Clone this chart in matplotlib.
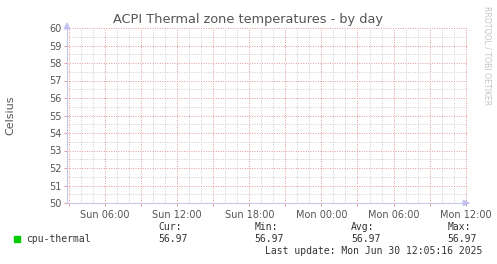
import numpy as np
import matplotlib
matplotlib.use("Agg")
import matplotlib.pyplot as plt
from matplotlib import rcParams
rcParams['font.family'] = 'DejaVu Sans'

# hours since Sun 00:00
xlim_hours = [2.84, 36.19]
tick_hours = [6, 12, 18, 24, 30, 36]
tick_labels = ['Sun 06:00', 'Sun 12:00', 'Sun 18:00', 'Mon 00:00', 'Mon 06:00', 'Mon 12:00']
# only the last sample exists, so nothing visible is drawn
series_hours = [36.08]
series_temp = [56.97]
stats_names = ['Cur:', 'Min:', 'Avg:', 'Max:']
stats_vals = ['56.97', '56.97', '56.97', '56.97']
ylim = [50, 60]

fig = plt.figure(figsize=(4.97, 2.64), dpi=100)
fig.patch.set_facecolor('white')
ax = fig.add_axes([67/497, 1-203/264, 401/497, 175/264])
ax.set_xlim(*xlim_hours)
ax.set_ylim(*ylim)

minor_c = '#cccccc'
major_c = '#e49898'
dots = (0, (1, 1.5))
for h in np.arange(3, 37, 1):
    if h % 3 == 0:
        continue
    ax.axvline(h, color=minor_c, lw=0.7, ls=dots, zorder=1)
for v in np.arange(50.5, 60, 1):
    ax.axhline(v, color=minor_c, lw=0.7, ls=dots, zorder=1)
for h in np.arange(3, 37, 3):
    ax.axvline(h, color=major_c, lw=0.7, ls=dots, zorder=2)
for v in np.arange(51, 61, 1):
    ax.axhline(v, color=major_c, lw=0.7, ls=dots, zorder=2)

ax.plot(series_hours, series_temp, color='#00cc00', lw=1)

for s in ['top', 'right']:
    ax.spines[s].set_visible(False)
for s in ['left', 'bottom']:
    ax.spines[s].set_color('#c8c8f0')
    ax.spines[s].set_linewidth(0.8)

# axis arrows
ax.annotate('', xy=(1.012, 0), xycoords='axes fraction', xytext=(0.98, 0),
            arrowprops=dict(arrowstyle='-|>', color='#c0c0f0', lw=0.8, mutation_scale=10))
ax.annotate('', xy=(0, 1.05), xycoords='axes fraction', xytext=(0, 0.98),
            arrowprops=dict(arrowstyle='-|>', color='#c0c0f0', lw=0.8, mutation_scale=10))

ax.set_xticks(np.arange(3, 37, 3))
ax.set_xticklabels(['' if h not in tick_hours else tick_labels[tick_hours.index(h)]
                    for h in np.arange(3, 37, 3)])
ax.set_yticks(np.arange(50, 61, 1))
ax.tick_params(axis='x', colors='#e49898', length=2, width=0.7, labelcolor='#555555',
               labelsize=7, pad=3)
ax.tick_params(axis='y', colors='#e49898', length=2, width=0.7, labelcolor='#555555',
               labelsize=7, pad=2)

fig.text(248/497, 1-19/264, 'ACPI Thermal zone temperatures - by day', ha='center',
         va='center', fontsize=9.3, color='#555555')
fig.text(10/497, 1-115/264, 'Celsius', rotation=90, ha='center', va='center',
         fontsize=8, color='#555555')
fig.text(487/497, 1-56/264, 'RRDTOOL / TOBI OETIKER', rotation=270, ha='center',
         va='center', fontsize=5.6, color='#c4c4c4')

mono = 'DejaVu Sans Mono'
fig.patches.append(plt.Rectangle((14/497, 1-242/264), 6/497, 6/264,
                                 transform=fig.transFigure, color='#00cc00'))
fig.text(26/497, 1-239.5/264, 'cpu-thermal', family=mono, fontsize=7,
         va='center', color='#333333')
for i, (n, v) in enumerate(zip(stats_names, stats_vals)):
    x = (158 + i*96.5)/497
    fig.text(x, 1-227/264, n, family=mono, fontsize=7, va='center', color='#333333')
    fig.text(x, 1-239.5/264, v, family=mono, fontsize=7, va='center', color='#333333')
fig.text(482/497, 1-251/264, 'Last update: Mon Jun 30 12:05:16 2025', family=mono,
         fontsize=7, va='center', ha='right', color='#333333')

fig.savefig('out.png', dpi=100)
